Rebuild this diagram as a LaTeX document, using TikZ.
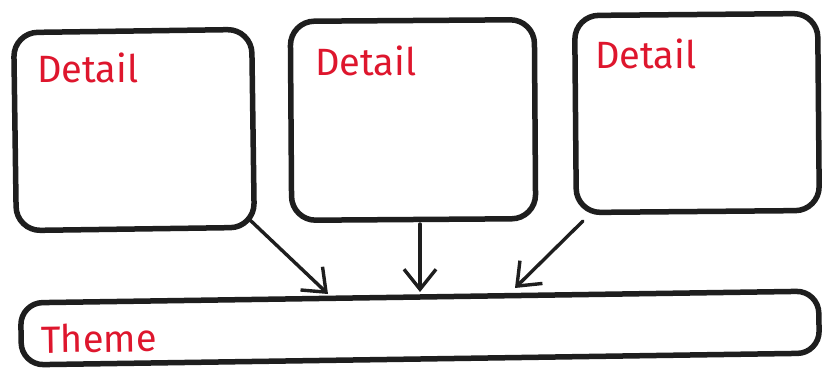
\documentclass[tikz,border=0pt]{standalone}
\usepackage{fontspec}
\setmainfont{Fira Sans}
\usetikzlibrary{arrows.meta,calc}
\definecolor{ink}{RGB}{30,30,30}
\definecolor{pen}{RGB}{222,22,45}
\tikzset{
  card/.style={draw=ink, line width=5.5pt, rounded corners=24pt, fill=white, inner sep=0pt},
  band/.style={draw=ink, line width=5.5pt, rounded corners=22pt, fill=white, inner sep=0pt},
  lbl/.style={text=pen, font=\fontsize{38}{40}\selectfont, anchor=base west, inner sep=0pt},
  link/.style={draw=ink, line width=3.4pt, line cap=round, -{Straight Barb[length=20pt,width=32pt,line width=3.4pt]}}
}
\begin{document}
\begin{tikzpicture}[x=1pt,y=-1pt]
\useasboundingbox (0,0) rectangle (824,372);
\fill[white] (0,0) rectangle (824,372);
\node[card, minimum width=238pt, minimum height=198pt, rotate=0.8] (b1) at (134,130) {};
\node[card, minimum width=244pt, minimum height=199pt, rotate=0.4] (b2) at (413,120) {};
\node[card, minimum width=243pt, minimum height=197pt, rotate=0.5] (b3) at (697,113) {};
\node[band, minimum width=798pt, minimum height=62pt, rotate=0.85] (th) at (420,328) {};
\node[lbl] (d1) at (37,82) {Detail};
\node[lbl] (d2) at (315,75) {Detail};
\node[lbl] (d3) at (595,68) {Detail};
\node[lbl, rotate=0.85] (tt) at (41,353) {Theme};
\coordinate (s1) at (250,220);
\coordinate (t1) at (328,294);
\coordinate (s2) at (420,224);
\coordinate (t2) at (420,292);
\coordinate (s3) at (583,221);
\coordinate (t3) at (515,288);
\draw[link] (s1) -- (t1);
\draw[link] (s2) -- (t2);
\draw[link] (s3) -- (t3);
\end{tikzpicture}
\end{document}
